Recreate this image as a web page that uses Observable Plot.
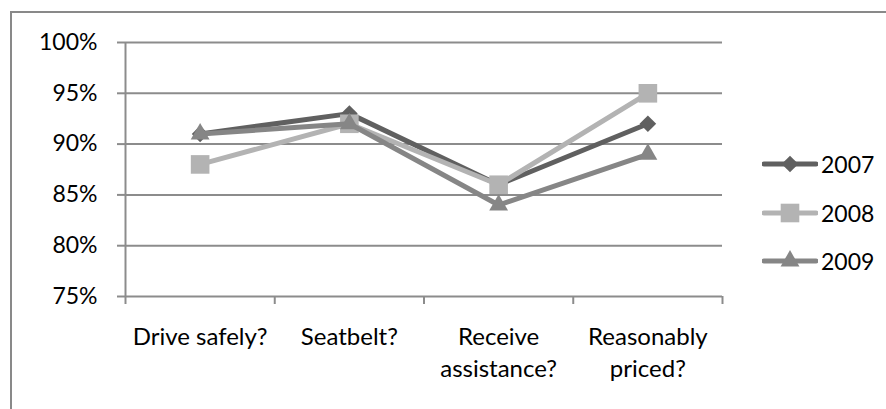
<!DOCTYPE html>
<html><head><meta charset="utf-8">
<script src="https://cdn.jsdelivr.net/npm/d3@7"></script>
<script src="https://cdn.jsdelivr.net/npm/@observablehq/plot@0.6"></script>
<style>
html,body{margin:0;padding:0;background:#fff;}
#wrap{position:relative;width:886px;height:409px;overflow:hidden;font-family:Lato,sans-serif;background:#fff;}
#frame{position:absolute;left:10px;top:11px;width:1000px;height:1000px;border:2px solid #898989;box-sizing:border-box;}
#chart{position:absolute;left:0;top:0;}
#legend{position:absolute;left:762px;top:0;}
.item{position:absolute;left:0;display:flex;align-items:center;height:30px;font-size:23px;color:#000;white-space:nowrap;}
.item svg{display:block;margin-right:3px;}
</style></head><body>
<div id="wrap"><div id="frame"></div><div id="chart"></div><div id="legend"></div></div>
<script>
const categories = ["Drive safely?", "Seatbelt?", "Receive\nassistance?", "Reasonably\npriced?"];
const years = ["2007", "2008", "2009"];
const values2007 = [0.91, 0.93, 0.86, 0.92];
const values2008 = [0.88, 0.92, 0.86, 0.95];
const values2009 = [0.91, 0.92, 0.84, 0.89];
const yTicks = [0.75, 0.80, 0.85, 0.90, 0.95, 1.00];

const seriesValues = [values2007, values2008, values2009];
const colors = ["#606060", "#b3b3b3", "#868686"];
const symbols = ["diamond2", "square", "triangle"];
const radii = [7.5, 10.5, 7];

const rows = years.flatMap((yr, s) => seriesValues[s].map((v, i) => ({year: yr, pos: i + 0.5, v})));
const catPositions = categories.map((c, i) => i + 0.5);
const boundaries = d3.range(categories.length + 1);

const seriesMarks = years.flatMap((yr, s) => {
  const d = rows.filter(r => r.year === yr);
  return [
    Plot.line(d, {x: "pos", y: "v", stroke: colors[s], strokeWidth: 5, strokeLinejoin: "round", strokeLinecap: "round"}),
    Plot.dot(d, {x: "pos", y: "v", symbol: symbols[s], r: radii[s], fill: colors[s], stroke: "none"})
  ];
});

const chart = Plot.plot({
  width: 886,
  height: 409,
  marginLeft: 125,
  marginRight: 164,
  marginTop: 42,
  marginBottom: 113,
  style: {fontFamily: "Lato, sans-serif", fontSize: "23px", color: "#000", background: "transparent"},
  x: {type: "linear", domain: [0, categories.length]},
  y: {domain: [0.75, 1.0]},
  marks: [
    Plot.gridY(yTicks, {stroke: "#8c8c8c", strokeOpacity: 1, strokeWidth: 2}),
    Plot.ruleX([0], {stroke: "#8c8c8c", strokeWidth: 2}),
    Plot.axisY(yTicks, {tickSize: 8, tickPadding: 20, tickFormat: d3.format(".0%"), stroke: "#8c8c8c", strokeWidth: 2, fill: "#000", fontSize: 23, label: null}),
    Plot.axisX(boundaries, {tickSize: 8, tickFormat: () => "", stroke: "#8c8c8c", strokeWidth: 2, label: null}),
    Plot.axisX(catPositions, {tickSize: 0, tickPadding: 26, tickFormat: d => categories[Math.round(d - 0.5)], lineAnchor: "top", lineHeight: 32 / 24, fill: "#000", fontSize: 24, label: null}),
    ...seriesMarks
  ]
});
document.getElementById("chart").appendChild(chart);

const legend = document.getElementById("legend");
const legendCenters = [164, 213, 261];
years.forEach((yr, s) => {
  const item = document.createElement("div");
  item.className = "item";
  item.style.top = (legendCenters[s] - 15) + "px";
  const svg = d3.create("svg").attr("width", 56).attr("height", 30);
  svg.append("line").attr("x1", 2).attr("x2", 54).attr("y1", 15).attr("y2", 15)
    .attr("stroke", colors[s]).attr("stroke-width", 5).attr("stroke-linecap", "round");
  const symType = s === 0 ? d3.symbolDiamond2 : s === 1 ? d3.symbolSquare : d3.symbolTriangle;
  svg.append("path").attr("transform", "translate(28,15)")
    .attr("d", d3.symbol(symType, Math.PI * radii[s] * radii[s])())
    .attr("fill", colors[s]);
  item.appendChild(svg.node());
  const t = document.createElement("span");
  t.textContent = yr;
  item.appendChild(t);
  legend.appendChild(item);
});
</script>
</body></html>
